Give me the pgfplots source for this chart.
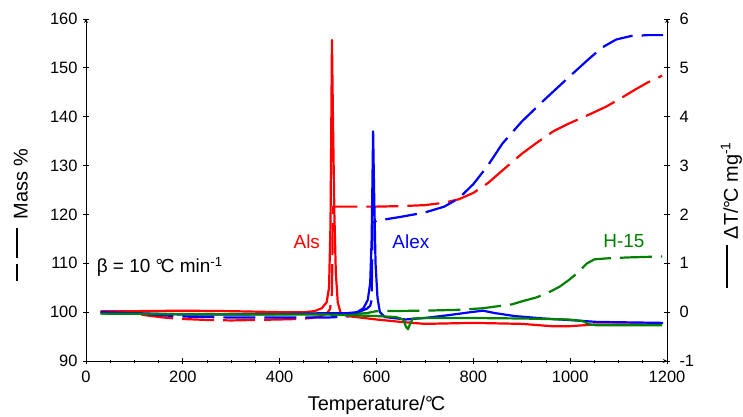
\documentclass[border=0pt]{standalone}
\usepackage{fontspec}
\setmainfont{Liberation Sans}
\usepackage{pgfplots}
\pgfplotsset{compat=1.18}
\definecolor{cred}{RGB}{255,0,0}
\definecolor{cblue}{RGB}{0,0,255}
\definecolor{cgreen}{RGB}{0,128,0}
\newcommand{\degC}{°\kern-0.12em C}
\newcommand{\lblfont}{\fontsize{20}{24}\selectfont}
\begin{document}
\begin{tikzpicture}
\pgfplotsset{
  common/.style={
    scale only axis, width=581bp, height=342bp,
    xmin=0, xmax=1200,
    /pgf/number format/assume math mode=true,
    /pgf/number format/1000 sep={},
    ticklabel style={font=\fontsize{16.5}{18}\selectfont},
    axis line style={-, line width=0.8bp},
    every tick/.style={black, line width=0.8bp},
    tick align=outside,
    major tick length=6bp, minor tick length=3bp,
    clip=false,
  },
  tg/.style={line width=2.2bp, dash pattern=on 32bp off 9bp, line join=round},
  dta/.style={line width=2.2bp, line join=round},
}
\begin{axis}[common, name=ax,
  axis x line=bottom, axis y line=left,
  ymin=90, ymax=160, ytick={90,100,...,160},
  xtick={0,200,...,1200}, minor x tick num=3,
  xticklabel style={yshift=-4bp},
  yticklabel style={xshift=-2bp},
  xlabel={Temperature/\degC},
  xlabel style={font=\lblfont, at={(axis description cs:0.5,-0.129)}, anchor=center},
  ylabel={\raisebox{0.5em}{\rule{0.85em}{0.11em}}\hspace{0.33em}\raisebox{0.5em}{\rule{1.5em}{0.11em}}\hspace{0.42em}Mass \%},
  ylabel style={font=\lblfont, at={(axis description cs:-0.112,0.427)}, anchor=center},
]
\addplot[tg, cred] coordinates {
(30,100.0) (80,99.9) (120,99.4) (160,98.9) (200,98.6) (250,98.4) (300,98.3) (350,98.4) (400,98.5) (440,98.6) (465,98.8) (485,99.2) (497,99.7) (504,100.6) (508,104) (510,121.6) (550,121.6) (600,121.6) (650,121.7) (700,121.9) (740,122.4) (770,123.1) (800,124.4) (830,126.4) (860,129.0) (900,132.4) (930,134.6) (965,137.0) (995,138.5) (1045,140.7) (1075,142.1) (1105,143.8) (1135,145.6) (1160,147.0) (1190,148.4)
};
\addplot[tg, cblue] coordinates {
(30,100.0) (100,99.8) (150,99.4) (200,99.1) (300,98.9) (400,98.9) (500,98.9) (540,99.1) (555,99.6) (568,100.2) (580,100.7) (587,101.3) (590,102.5) (592,118.3) (600,118.7) (650,119.5) (700,120.4) (740,121.6) (770,123.3) (800,126.2) (830,130.0) (860,134.5) (900,139.0) (945,143.3) (995,147.9) (1035,151.5) (1065,154.1) (1095,155.8) (1125,156.5) (1160,156.7) (1192,156.7)
};
\addplot[tg, cgreen] coordinates {
(30,99.7) (200,99.6) (400,99.6) (550,99.6) (580,99.8) (600,100.2) (700,100.3) (775,100.5) (820,100.8) (850,101.2) (880,101.6) (900,102.2) (930,103.0) (955,104.0) (978,105.2) (995,106.4) (1015,108.0) (1035,110.0) (1050,110.8) (1075,111.0) (1120,111.2) (1190,111.4)
};
\node[cred, font=\fontsize{19}{22}\selectfont, anchor=base] at (axis cs:456,113.0) {Als};
\node[cblue, font=\fontsize{19}{22}\selectfont, anchor=base] at (axis cs:671,113.0) {Alex};
\node[cgreen, font=\fontsize{19}{22}\selectfont, anchor=base] at (axis cs:1111,113.2) {H-15};
\node[black, font=\fontsize{19}{22}\selectfont, anchor=base west, inner sep=0pt] at (axis cs:22,108.1) {β = 10 \degC\ min\textsuperscript{-1}};
\end{axis}
\begin{axis}[common,
  axis y line=right, axis x line=none,
  ymin=-1, ymax=6, ytick={-1,0,1,2,3,4,5,6},
  yticklabels={-1,0,1,2,3,4,5,6},
  yticklabel style={xshift=6bp},
  ylabel={\lblfont\raisebox{0.5em}{\rule{2.15em}{0.11em}}\hspace{0.3em}ΔT/\degC\ mg\textsuperscript{-1}},
  ylabel style={font=\lblfont, at={(axis description cs:1.111,0.427)}, anchor=center},
]
\addplot[dta, cred] coordinates {
(30,0.02) (100,0.02) (200,0.03) (300,0.02) (400,0.0) (450,0.0) (472,0.02) (487,0.08) (497,0.2) (502,0.5) (505,1.8) (508,5.57) (510,4.0) (513,2.0) (516,0.8) (520,0.2) (526,-0.02) (540,-0.08) (600,-0.15) (650,-0.2) (700,-0.24) (800,-0.22) (900,-0.24) (965,-0.29) (995,-0.29) (1055,-0.25) (1190,-0.25)
};
\addplot[dta, cblue] coordinates {
(30,0.0) (100,-0.02) (200,-0.05) (300,-0.05) (400,-0.04) (500,-0.02) (540,-0.02) (560,0.0) (573,0.08) (582,0.25) (587,0.6) (590,1.5) (593,3.7) (595,2.5) (598,1.0) (602,0.3) (607,0.0) (617,-0.1) (660,-0.15) (700,-0.12) (750,-0.06) (795,0.0) (820,0.03) (845,-0.02) (885,-0.08) (945,-0.13) (995,-0.16) (1055,-0.2) (1192,-0.22)
};
\addplot[dta, cgreen] coordinates {
(30,-0.03) (200,-0.04) (400,-0.05) (500,-0.05) (600,-0.08) (640,-0.1) (655,-0.15) (661,-0.3) (665,-0.35) (669,-0.25) (675,-0.13) (700,-0.12) (800,-0.12) (900,-0.13) (995,-0.15) (1025,-0.18) (1040,-0.25) (1055,-0.27) (1190,-0.27)
};
\end{axis}
\pgfresetboundingbox
\path[use as bounding box] ([shift={(-86bp,-56bp)}]ax.south west) rectangle ([shift={(76bp,19bp)}]ax.north east);
\end{tikzpicture}
\end{document}
